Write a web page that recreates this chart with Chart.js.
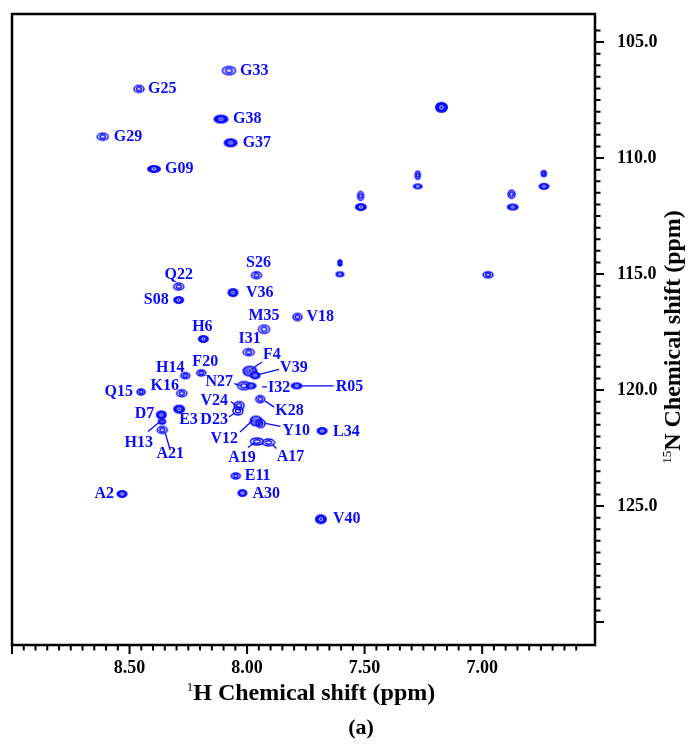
<!DOCTYPE html>
<html>
<head>
<meta charset="utf-8">
<title>1H-15N HSQC</title>
<script src="https://cdn.jsdelivr.net/npm/chart.js@4.4.0/dist/chart.umd.min.js"></script>
<style>
  html, body { margin: 0; padding: 0; background: #fff; }
  #wrap { width: 689px; height: 744px; }
</style>
</head>
<body>
<div id="wrap"><canvas id="hsqc" width="689" height="744"></canvas></div>
<script>
/* ===== Data ===== */
const PEAK_NAMES = ['G33', 'G25', 'G38', 'G29', 'G37', 'G09', 'S26', 'Q22', 'S08', 'V36',
  'M35', 'V18', 'H6', 'I31', 'F4', 'V39', 'H14', 'F20', 'N27', 'I32',
  'R05', 'Q15', 'K16', 'K28', 'V24', 'D23', 'E3', 'D7', 'H13', 'A21',
  'V12', 'Y10', 'L34', 'A19', 'A17', 'E11', 'A30', 'A2', 'V40'];
const PEAK_H = [8.077, 8.460, 8.111, 8.614, 8.070, 8.396, 7.960, 8.291, 8.291, 8.060,
  7.928, 7.786, 8.186, 7.993, 7.988, 7.966, 8.263, 8.195, 8.013, 7.983,
  7.789, 8.451, 8.278, 7.944, 8.034, 8.039, 8.289, 8.365, 8.362, 8.361,
  7.962, 7.943, 7.681, 7.958, 7.909, 8.048, 8.020, 8.532, 7.686];
const PEAK_N = [106.23, 107.02, 108.32, 109.08, 109.34, 110.47, 115.05, 115.54, 116.12, 115.80,
  117.38, 116.85, 117.80, 118.37, 119.18, 119.37, 119.38, 119.26, 119.81, 119.82,
  119.82, 120.08, 120.14, 120.39, 120.67, 120.90, 120.82, 121.07, 121.36, 121.72,
  121.33, 121.44, 121.76, 122.22, 122.26, 123.70, 124.44, 124.48, 125.57];

// unassigned peaks (side chains)
const EXTRA_H = [7.173, 7.274, 7.274, 7.517, 7.516, 6.875, 6.870, 6.738, 6.737, 7.605, 7.605, 6.975];
const EXTRA_N = [107.81, 110.74, 111.22, 111.63, 112.11, 111.56, 112.11, 110.67, 111.22, 114.52, 115.01, 115.03];

const H_TICK_LABELS = ['8.50', '8.00', '7.50', '7.00'];
const N_TICK_LABELS = ['105.0', '110.0', '115.0', '120.0', '125.0'];

/* ===== Style ===== */
const BLUE  = '#0a0aff';
const SERIF = '"Liberation Serif", "Times New Roman", serif';

// contour glyph: width, height (px), kind
const PEAK_SHAPE = {
  G33: [13, 8, 'ring'],  G25: [10, 7, 'ring'],  G38: [15, 9, 'solid'], G29: [11, 7, 'ring'],
  G37: [14, 9, 'solid'], G09: [14, 8, 'solid'], S26: [10, 7, 'ring'],  Q22: [10, 7, 'ring'],
  S08: [11, 8, 'solid'], V36: [11, 9, 'solid'], M35: [11, 8, 'ring'],  V18: [9, 7, 'ring'],
  H6:  [11, 8, 'solid'], I31: [11, 7, 'ring'],  F4:  [15, 11, 'blob'], V39: [11, 8, 'solid'],
  H14: [9, 6, 'ring'],   F20: [9, 6, 'ring'],   N27: [13, 8, 'ring'],  I32: [11, 7, 'solid'],
  R05: [12, 7, 'solid'], Q15: [8, 6, 'ring'],   K16: [10, 7, 'ring'],  K28: [9, 7, 'ring'],
  V24: [10, 8, 'ring'],  D23: [10, 8, 'ring'],  E3:  [12, 9, 'solid'], D7:  [11, 9, 'solid'],
  H13: [7, 5, 'ring'],   A21: [10, 7, 'ring'],  V12: [13, 11, 'blob'], Y10: [9, 8, 'ring'],
  L34: [11, 8, 'solid'], A19: [13, 7, 'ring'],  A17: [12, 7, 'ring'],  E11: [9, 6, 'ring'],
  A30: [10, 8, 'solid'], A2:  [11, 8, 'solid'], V40: [12, 10, 'solid'],
};
const EXTRA_SHAPE = [[13, 11, 'solid'], [5, 8, 'ring'], [10, 6, 'solid'], [6, 9, 'ring'], [12, 8, 'solid'],
  [7, 8, 'ring'], [12, 7, 'solid'], [5, 6, 'ring'], [11, 7, 'solid'], [4, 6, 'ring'], [9, 6, 'solid'], [10, 6, 'ring']];

// label anchor offset from the peak (px) and alignment
const LABEL_AT = {
  G33: [11, 0, 'left'],   G25: [9, 0, 'left'],     G38: [12, 0, 'left'],   G29: [11, 0, 'left'],
  G37: [12, 0, 'left'],   G09: [11, 0, 'left'],    S26: [2, -12, 'center'], Q22: [0, -12, 'center'],
  S08: [-10, 0, 'right'], V36: [13, 0, 'left'],    M35: [0, -13, 'center'], V18: [9, 0, 'left'],
  H6:  [-1, -12, 'center'], I31: [1, -13, 'center'], F4: [13, -16, 'left'], V39: [25, -8, 'left'],
  H14: [-15, -8, 'center'], F20: [4, -11, 'center'], N27: [-11, -4, 'right'], I32: [17, 2, 'left'],
  R05: [39, 1, 'left'],   Q15: [-8, 0, 'right'],   K16: [-17, -7, 'center'], K28: [15, 12, 'left'],
  V24: [-11, -5, 'right'], D23: [-10, 9, 'right'], E3: [0, 11, 'left'],    D7: [-7, -1, 'right'],
  H13: [-9, 21, 'right'], A21: [8, 24, 'center'],  V12: [-18, 18, 'right'], Y10: [22, 7, 'left'],
  L34: [11, 1, 'left'],   A19: [-15, 16, 'center'], A17: [22, 14, 'center'], E11: [9, 0, 'left'],
  A30: [10, 1, 'left'],   A2: [-8, 0, 'right'],    V40: [12, 0, 'left'],
};
// leader lines: from / to offsets relative to the peak (px)
const LEADERS = {
  F4:  [12, -9, 2, -2],   V39: [24, -6, 4, -1],  N27: [-10, -2, -3, 0], I32: [11, 1, 16, 1],
  R05: [6, 0, 37, 0],     K28: [5, 2, 14, 8],    V24: [-8, -4, -2, 1],  D23: [-9, 6, -3, 2],
  V12: [-16, 11, -3, -1], Y10: [5, 0, 20, 3],    H13: [-14, 10, -2, 0], A21: [8, 20, 3, 3],
  A19: [-9, 6, -2, 1],    A17: [4, 2, 8, 6],
};

/* ===== Helpers ===== */
function peakGlyph([w, h, kind]) {
  const c = document.createElement('canvas');
  c.width = w + 4; c.height = h + 4;
  const g = c.getContext('2d');
  const cx = c.width / 2, cy = c.height / 2;
  g.strokeStyle = g.fillStyle = BLUE;
  g.lineWidth = 1.5;
  g.beginPath(); g.ellipse(cx, cy, w / 2, h / 2, 0, 0, Math.PI * 2);
  if (kind === 'ring') {
    g.stroke();
    g.beginPath(); g.ellipse(cx, cy, w / 4, h / 4, 0, 0, Math.PI * 2); g.stroke();
  } else {
    g.fill();
    g.strokeStyle = '#fff'; g.lineWidth = 0.8;
    const rings = kind === 'blob' ? [0.3, 0.6] : [0.3];
    rings.forEach(r => { g.beginPath(); g.ellipse(cx, cy, w / 2 * r, h / 2 * r, 0, 0, Math.PI * 2); g.stroke(); });
  }
  return c;
}

const isStep = (v, s) => Math.abs(v / s - Math.round(v / s)) < 1e-6;

function drawSupText(ctx, sup, main, cx, baseline, size) {
  ctx.font = `bold ${size}px ${SERIF}`;
  const wMain = ctx.measureText(main).width;
  ctx.font = `${Math.round(size * 0.55)}px ${SERIF}`;
  const wSup = ctx.measureText(sup).width;
  const x0 = cx - (wMain + wSup) / 2;
  ctx.textAlign = 'left';
  ctx.textBaseline = 'alphabetic';
  ctx.fillText(sup, x0, baseline - size * 0.38);
  ctx.font = `bold ${size}px ${SERIF}`;
  ctx.fillText(main, x0 + wSup, baseline);
}

/* ===== Decorations: frame, ticks, labels, titles ===== */
const hsqcDecor = {
  id: 'hsqcDecor',
  afterDatasetsDraw(chart) {
    const { ctx } = chart;
    const meta = chart.getDatasetMeta(0);
    ctx.save();
    ctx.strokeStyle = BLUE;
    ctx.fillStyle = BLUE;
    ctx.lineWidth = 1.3;
    ctx.font = `bold 16px ${SERIF}`;
    ctx.textBaseline = 'middle';
    PEAK_NAMES.forEach((name, i) => {
      const pt = meta.data[i];
      const ld = LEADERS[name];
      if (ld) {
        ctx.beginPath();
        ctx.moveTo(pt.x + ld[0], pt.y + ld[1]);
        ctx.lineTo(pt.x + ld[2], pt.y + ld[3]);
        ctx.stroke();
      }
      const [dx, dy, align] = LABEL_AT[name];
      ctx.textAlign = align;
      ctx.fillText(name, pt.x + dx, pt.y + dy);
    });
    ctx.restore();
  },
  afterDraw(chart) {
    const { ctx, chartArea: a, scales: { x, y } } = chart;
    ctx.save();
    ctx.strokeStyle = '#000';
    ctx.fillStyle = '#000';

    // ticks (outward)
    ctx.lineWidth = 2;
    ctx.beginPath();
    x.ticks.forEach(t => {
      if (!isStep(t.value, 0.05)) {return;}
      const px = x.getPixelForValue(t.value);
      const len = isStep(t.value, 0.5) ? 9 : 5.5;
      ctx.moveTo(px, a.bottom); ctx.lineTo(px, a.bottom + len);
    });
    y.ticks.forEach(t => {
      if (!isStep(t.value, 0.5)) {return;}
      const py = y.getPixelForValue(t.value);
      const len = isStep(t.value, 5) ? 9 : 5.5;
      ctx.moveTo(a.right, py); ctx.lineTo(a.right + len, py);
    });
    ctx.stroke();

    // frame
    ctx.lineWidth = 2.5;
    ctx.strokeRect(a.left, a.top, a.right - a.left, a.bottom - a.top);

    // axis titles
    drawSupText(ctx, '1', 'H Chemical shift (ppm)', 311, 700, 24);
    ctx.save();
    ctx.translate(672, 337);
    ctx.rotate(-Math.PI / 2);
    drawSupText(ctx, '15', 'N Chemical shift (ppm)', 0, 8, 24);
    ctx.restore();

    // panel tag
    ctx.font = `bold 22px ${SERIF}`;
    ctx.textAlign = 'center';
    ctx.textBaseline = 'alphabetic';
    ctx.fillText('(a)', 361, 734);
    ctx.restore();
  }
};

/* ===== Chart ===== */
new Chart(document.getElementById('hsqc'), {
  type: 'scatter',
  data: {
    datasets: [
      {
        label: 'assigned',
        data: PEAK_H.map((h, i) => ({ x: h, y: PEAK_N[i] })),
        pointStyle: PEAK_NAMES.map(n => peakGlyph(PEAK_SHAPE[n])),
        pointRadius: 5,
      },
      {
        label: 'unassigned',
        data: EXTRA_H.map((h, i) => ({ x: h, y: EXTRA_N[i] })),
        pointStyle: EXTRA_SHAPE.map(peakGlyph),
        pointRadius: 5,
      },
    ],
  },
  options: {
    responsive: false,
    animation: false,
    devicePixelRatio: 1,
    events: [],
    layout: { padding: { left: 12, top: 14, right: 0, bottom: 0 } },
    plugins: { legend: { display: false }, tooltip: { enabled: false } },
    scales: {
      x: {
        type: 'linear',
        reverse: true,
        min: 6.52,
        max: 9.0,
        grid: { display: false },
        border: { display: false },
        ticks: {
          stepSize: 0.05,
          autoSkip: false,
          maxRotation: 0,
          padding: 5,
          color: '#000',
          font: { family: SERIF, size: 18, weight: 'bold' },
          callback: v => (H_TICK_LABELS.includes(v.toFixed(2)) ? v.toFixed(2) : ''),
        },
        afterFit: s => { s.height = 99; s.paddingLeft = 0; s.paddingRight = 0; },
      },
      y: {
        type: 'linear',
        position: 'right',
        reverse: true,
        min: 103.79,
        max: 130.99,
        grid: { display: false },
        border: { display: false },
        ticks: {
          stepSize: 0.5,
          autoSkip: false,
          padding: 14,
          color: '#000',
          font: { family: SERIF, size: 18, weight: 'bold' },
          callback: v => (N_TICK_LABELS.includes(v.toFixed(1)) ? v.toFixed(1) : ''),
        },
        afterFit: s => { s.width = 94; s.paddingTop = 0; s.paddingBottom = 0; },
      },
    },
  },
  plugins: [hsqcDecor],
});
</script>
</body>
</html>
